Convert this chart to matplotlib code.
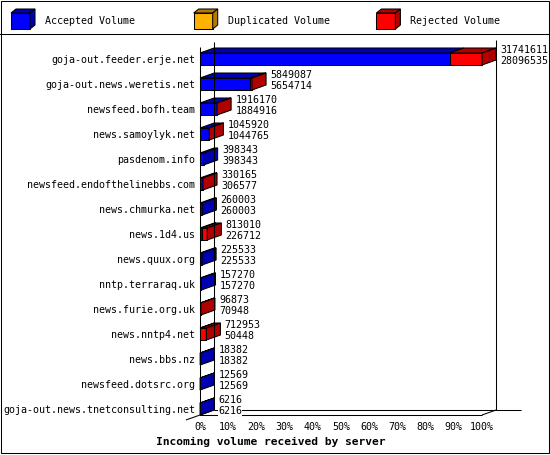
import matplotlib.pyplot as plt
from matplotlib.patches import Polygon, Rectangle

# data
servers = [
    'goja-out.feeder.erje.net',
    'goja-out.news.weretis.net',
    'newsfeed.bofh.team',
    'news.samoylyk.net',
    'pasdenom.info',
    'newsfeed.endofthelinebbs.com',
    'news.chmurka.net',
    'news.1d4.us',
    'news.quux.org',
    'nntp.terraraq.uk',
    'news.furie.org.uk',
    'news.nntp4.net',
    'news.bbs.nz',
    'newsfeed.dotsrc.org',
    'goja-out.news.tnetconsulting.net',
]
total_volume = [31741611, 5849087, 1916170, 1045920, 398343, 330165, 260003,
                813010, 225533, 157270, 96873, 712953, 18382, 12569, 6216]
accepted_volume = [28096535, 5654714, 1884916, 1044765, 398343, 306577, 260003,
                   226712, 225533, 157270, 70948, 50448, 18382, 12569, 6216]
percent_ticks = [0, 10, 20, 30, 40, 50, 60, 70, 80, 90, 100]
legend_labels = ['Accepted Volume', 'Duplicated Volume', 'Rejected Volume']
title = 'Incoming volume received by server'

BLUE, BLUE_DARK = '#0000ff', '#0000b0'
ORANGE, ORANGE_DARK = '#ffb000', '#b07b00'
RED, RED_DARK = '#ff0000', '#b00000'

W, H = 550, 455
DEPTH_X = 5.0     # 3d offset, percent units
DEPTH_Y = -0.2    # 3d offset, row units
HALF = 0.24       # half height of a bar front
LW = 0.75
FS = 7.2

plt.rcParams['font.family'] = ['DejaVu Sans Mono']

fig = plt.figure(figsize=(W / 100, H / 100), dpi=100)

# frame + legend, in pixel units
frame = fig.add_axes([0, 0, 1, 1])
frame.set_xlim(0, W)
frame.set_ylim(H, 0)
frame.axis('off')
frame.add_patch(Rectangle((0.5, 0.5), W - 1.5, H - 2.5, fill=False,
                          ec='black', lw=LW))
frame.plot([0, W], [34, 34], color='black', lw=LW)


def box3d(axis, x0, x1, y0, y1, dx, dy, face, dark, side=True):
    """front rectangle + top face (+ right face), y grows downwards"""
    kw = dict(ec='black', lw=LW, clip_on=False, joinstyle='miter')
    if x1 > x0:
        axis.add_patch(Rectangle((x0, y0), x1 - x0, y1 - y0, fc=face, **kw))
    axis.add_patch(Polygon([(x0, y0), (x1, y0), (x1 + dx, y0 + dy),
                            (x0 + dx, y0 + dy)], closed=True, fc=dark, **kw))
    if side:
        axis.add_patch(Polygon([(x1, y0), (x1 + dx, y0 + dy),
                                (x1 + dx, y1 + dy), (x1, y1)],
                               closed=True, fc=dark, **kw))


legend_colors = [(BLUE, BLUE_DARK), (ORANGE, ORANGE_DARK), (RED, RED_DARK)]
for k, (label, (c, cd)) in enumerate(zip(legend_labels, legend_colors)):
    x0 = 11 + 182.7 * k
    box3d(frame, x0, x0 + 19, 13, 29, 5, -4, c, cd)
    frame.text(x0 + 34, 21, label, fontsize=FS, va='center', ha='left')

frame.text(156, 442, title, fontsize=8.1, fontweight='bold',
           va='center', ha='left')

# chart area: x in percent of the largest server, y in rows
n = len(servers)
ax = fig.add_axes([200 / W, (H - 421.5) / H, 282 / W, 375 / H])
ax.set_facecolor('none')
ax.set_xlim(0, 100)
ax.set_ylim(n - 0.5, -0.5)
for s in ax.spines.values():
    s.set_visible(False)
ax.set_xticks(percent_ticks, [f'{p}%' for p in percent_ticks])
ax.set_yticks(range(n), servers)
ax.tick_params(axis='x', length=0, pad=0.6, labelsize=FS)
ax.tick_params(axis='y', length=0, pad=3.6, labelsize=FS)

# walls and floor
floor_front = n - 1 + HALF
floor_back = floor_front + DEPTH_Y
top = -0.5
wall = dict(color='black', lw=LW, clip_on=False, solid_capstyle='butt')
ax.plot([0, 0], [top, floor_front], **wall)
ax.plot([DEPTH_X, DEPTH_X], [top + DEPTH_Y, floor_back], **wall)
ax.plot([100 + DEPTH_X, 100 + DEPTH_X], [top + DEPTH_Y - 0.05, floor_back], **wall)
ax.plot([0, 100], [floor_front, floor_front], **wall)
ax.plot([100, 100 + DEPTH_X], [floor_front, floor_back], **wall)
ax.plot([DEPTH_X, 114], [floor_back, floor_back], **wall)
ax.plot([-DEPTH_X, DEPTH_X], [floor_front - DEPTH_Y, floor_back], **wall)

# bars
scale = 100.0 / max(total_volume)
for i, (tot, acc) in enumerate(zip(total_volume, accepted_volume)):
    acc_pct = acc * scale
    tot_pct = tot * scale
    y0, y1 = i - HALF, i + HALF
    rejected = tot > acc
    box3d(ax, 0, acc_pct, y0, y1, DEPTH_X, DEPTH_Y, BLUE, BLUE_DARK,
          side=not rejected)
    if rejected:
        box3d(ax, acc_pct, tot_pct, y0, y1, DEPTH_X, DEPTH_Y, RED, RED_DARK)
    tx = tot_pct + DEPTH_X + 1.5
    lab = dict(fontsize=FS, va='center', ha='left', clip_on=False,
               bbox=dict(fc='white', ec='none', pad=0))
    ax.text(tx, i - 0.36, str(tot), **lab)
    ax.text(tx, i + 0.08, str(acc), **lab)

fig.savefig('out.png', dpi=100)
